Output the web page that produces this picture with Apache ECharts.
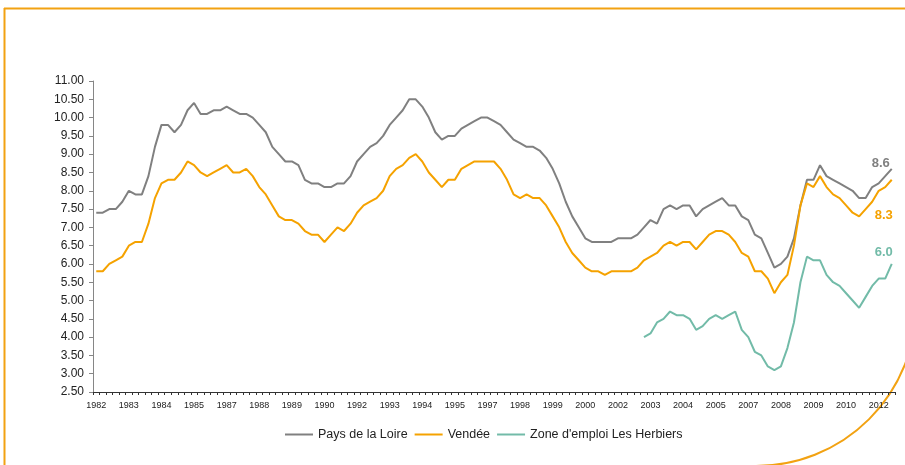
<!DOCTYPE html>
<html>
<head>
<meta charset="utf-8">
<script src="https://cdn.jsdelivr.net/npm/echarts@6/dist/echarts.min.js"></script>
<style>html,body{margin:0;padding:0;background:#fff}#c{width:905px;height:465px}</style>
</head>
<body>
<div id="c"></div>
<script>
// Quarterly categories 1982 T1 .. 2012 T3
const firstYear = 1982;
const nQuarters = 123;
const categories = [];
for (let i = 0; i < nQuarters; i++) {
  categories.push((firstYear + Math.floor(i / 4)) + ' T' + (i % 4 + 1));
}

const seriesNames = ['Pays de la Loire', 'Vendée', "Zone d'emploi Les Herbiers"];

const paysDeLaLoire = [
  7.4,7.4,7.5,7.5,7.7,8.0,7.9,7.9,8.4,9.2,9.8,9.8,9.6,9.8,10.2,10.4,10.1,10.1,10.2,10.2,
  10.3,10.2,10.1,10.1,10.0,9.8,9.6,9.2,9.0,8.8,8.8,8.7,8.3,8.2,8.2,8.1,8.1,8.2,
  8.2,8.4,8.8,9.0,9.2,9.3,9.5,9.8,10.0,10.2,10.5,10.5,10.3,10.0,9.6,9.4,9.5,9.5,9.7,9.8,
  9.9,10.0,10.0,9.9,9.8,9.6,9.4,9.3,9.2,9.2,9.1,8.9,8.6,8.2,7.7,7.3,7.0,6.7,6.6,6.6,6.6,6.6,6.7,6.7,
  6.7,6.8,7.0,7.2,7.1,7.5,7.6,7.5,7.6,7.6,7.3,7.5,7.6,7.7,7.8,7.6,7.6,7.3,7.2,6.8,
  6.7,6.3,5.9,6.0,6.2,6.7,7.6,8.3,8.3,8.7,8.4,8.3,8.2,8.1,8.0,7.8,7.8,8.1,8.2,8.4,8.6
];

const vendee = [
  5.8,5.8,6.0,6.1,6.2,6.5,6.6,6.6,7.1,7.8,8.2,8.3,8.3,8.5,8.8,8.7,8.5,8.4,8.5,8.6,
  8.7,8.5,8.5,8.6,8.4,8.1,7.9,7.6,7.3,7.2,7.2,7.1,6.9,6.8,6.8,6.6,6.8,7.0,
  6.9,7.1,7.4,7.6,7.7,7.8,8.0,8.4,8.6,8.7,8.9,9.0,8.8,8.5,8.3,8.1,8.3,8.3,8.6,8.7,
  8.8,8.8,8.8,8.8,8.6,8.3,7.9,7.8,7.9,7.8,7.8,7.6,7.3,7.0,6.6,6.3,6.1,5.9,5.8,5.8,5.7,5.8,5.8,5.8,
  5.8,5.9,6.1,6.2,6.3,6.5,6.6,6.5,6.6,6.6,6.4,6.6,6.8,6.9,6.9,6.8,6.6,6.3,6.2,5.8,
  5.8,5.6,5.2,5.5,5.7,6.5,7.6,8.2,8.1,8.4,8.1,7.9,7.8,7.6,7.4,7.3,7.5,7.7,8.0,8.1,8.3
];

// Zone d'emploi Les Herbiers: starts at 2003 T1 (index 84)
const herbiersStart = 84;
const herbiersValues = [
  4.0,4.1,4.4,4.5,4.7,4.6,4.6,4.5,4.2,4.3,4.5,4.6,4.5,4.6,4.7,4.2,4.0,3.6,3.5,3.2,
  3.1,3.2,3.7,4.4,5.5,6.2,6.1,6.1,5.7,5.5,5.4,5.2,5.0,4.8,5.1,5.4,5.6,5.6,6.0
];
const herbiers = categories.map((c, i) => i < herbiersStart ? null : herbiersValues[i - herbiersStart]);

const yTicks = { min: 2.5, max: 11, step: 0.5 };

const colors = ['#808080', '#F5A200', '#72BBA8'];
const FONT = '"Liberation Sans", Arial, sans-serif';

const chart = echarts.init(document.getElementById('c'), null, { renderer: 'canvas' });

function endLabel(color, dx, dy) {
  return {
    show: true,
    formatter: p => Number(p.value).toFixed(1),
    color: color,
    fontFamily: FONT,
    fontSize: 13,
    fontWeight: 'bold',
    offset: [dx, dy]
  };
}

chart.setOption({
  animation: false,
  backgroundColor: '#fff',
  color: colors,
  grid: { left: 93, right: 10, top: 81, bottom: 73, containLabel: false },
  xAxis: {
    type: 'category',
    data: categories,
    boundaryGap: true,
    axisLine: { lineStyle: { color: '#333', width: 1 } },
    axisTick: { show: true, interval: 0, length: 3, lineStyle: { color: '#333' } },
    axisLabel: {
      interval: 4,
      margin: 9,
      fontSize: 9,
      fontFamily: FONT,
      color: '#222',
      formatter: v => v.split(' ')[0]
    },
    splitLine: { show: false }
  },
  yAxis: {
    type: 'value',
    min: yTicks.min,
    max: yTicks.max,
    interval: yTicks.step,
    axisLine: { show: true, lineStyle: { color: '#868686', width: 1 } },
    axisTick: { show: true, length: 4, lineStyle: { color: '#868686' } },
    axisLabel: {
      margin: 9,
      fontSize: 12,
      fontFamily: FONT,
      color: '#222',
      formatter: v => v.toFixed(2)
    },
    splitLine: { show: false }
  },
  legend: {
    top: 423,
    left: 280,
    icon: 'rect',
    itemWidth: 28,
    itemHeight: 2,
    itemGap: 7,
    textStyle: { fontFamily: FONT, fontSize: 12.5, color: '#222', padding: [0, 0, 0, 0] },
    data: seriesNames
  },
  series: [
    {
      name: seriesNames[0], type: 'line', data: paysDeLaLoire,
      symbol: 'none', lineStyle: { width: 2, color: colors[0] },
      endLabel: endLabel(colors[0], -28, -5)
    },
    {
      name: seriesNames[1], type: 'line', data: vendee,
      symbol: 'none', lineStyle: { width: 2, color: colors[1] },
      endLabel: endLabel(colors[1], -25, 36)
    },
    {
      name: seriesNames[2], type: 'line', data: herbiers,
      symbol: 'none', lineStyle: { width: 2, color: colors[2] },
      endLabel: endLabel(colors[2], -25, -12)
    }
  ],
  graphic: [
    { type: 'line', silent: true, shape: { x1: 4, y1: 8.5, x2: 905, y2: 8.5 }, style: { stroke: '#F2A212', lineWidth: 2 } },
    { type: 'line', silent: true, shape: { x1: 4.5, y1: 8, x2: 4.5, y2: 465 }, style: { stroke: '#F2A212', lineWidth: 2 } },
    { type: 'arc', silent: true, shape: { cx: 756, cy: 306, r: 160, startAngle: 0, endAngle: Math.PI / 2, clockwise: true }, style: { stroke: '#F2A212', lineWidth: 2, fill: null } }
  ]
});
</script>
</body>
</html>
